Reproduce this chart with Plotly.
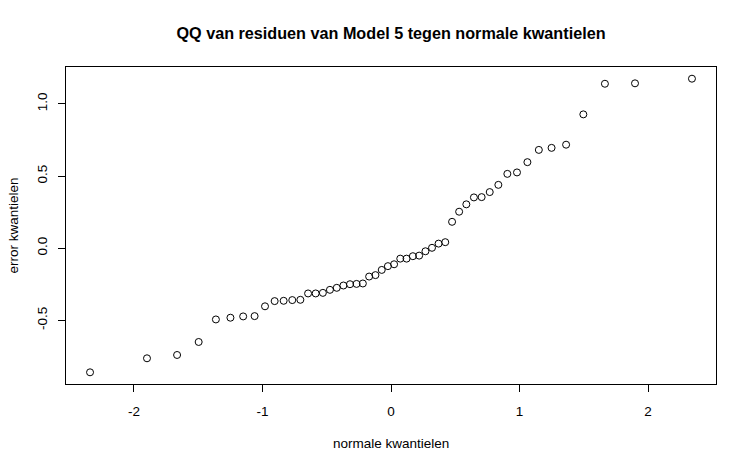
import plotly.graph_objects as go

# theoretical normal quantiles (52 residuals)
normale_kwantielen = [
    -2.341, -1.898, -1.664, -1.496, -1.362, -1.249, -1.150, -1.061, -0.980,
    -0.905, -0.835, -0.768, -0.705, -0.645, -0.586, -0.530, -0.475, -0.422,
    -0.370, -0.319, -0.268, -0.219, -0.170, -0.121, -0.072, -0.024,
    0.024, 0.072, 0.121, 0.170, 0.219, 0.268, 0.319, 0.370, 0.422, 0.475,
    0.530, 0.586, 0.645, 0.705, 0.768, 0.835, 0.905, 0.980, 1.061, 1.150,
    1.249, 1.362, 1.496, 1.664, 1.898, 2.341,
]

# sorted residuals of Model 5
error_kwantielen = [
    -0.859, -0.762, -0.739, -0.649, -0.493, -0.481, -0.472, -0.470, -0.402,
    -0.366, -0.364, -0.359, -0.357, -0.313, -0.313, -0.309, -0.288, -0.274,
    -0.258, -0.249, -0.247, -0.244, -0.196, -0.186, -0.150, -0.124,
    -0.111, -0.072, -0.072, -0.055, -0.051, -0.021, 0.003, 0.032, 0.042,
    0.183, 0.253, 0.304, 0.352, 0.354, 0.389, 0.439, 0.515, 0.525, 0.596,
    0.681, 0.695, 0.717, 0.927, 1.139, 1.142, 1.174,
]

x_ticks = [-2, -1, 0, 1, 2]
x_ticklabels = ["-2", "-1", "0", "1", "2"]
y_ticks = [-0.5, 0.0, 0.5, 1.0]
y_ticklabels = ["-0.5", "0.0", "0.5", "1.0"]

font = "Liberation Sans, Arial, Helvetica, sans-serif"

fig = go.Figure(
    data=go.Scatter(
        x=normale_kwantielen,
        y=error_kwantielen,
        mode="markers",
        marker=dict(symbol="circle-open", size=7, color="black",
                    line=dict(width=1, color="black")),
        hoverinfo="x+y",
    ),
    layout=go.Layout(
        width=750,
        height=468,
        paper_bgcolor="white",
        plot_bgcolor="white",
        showlegend=False,
        margin=dict(l=66, r=34, t=67, b=84, autoexpand=False),
        font=dict(family=font, size=13.5, color="black"),
        title=dict(
            text="<b>QQ van residuen van Model 5 tegen normale kwantielen</b>",
            x=0.5, xref="paper", xanchor="center",
            y=1 - 33.5 / 468, yref="container", yanchor="middle",
            font=dict(family=font, size=16.2, color="black"),
        ),
    ),
)

fig.update_xaxes(
    range=[-2.528, 2.528],
    tickvals=x_ticks,
    ticktext=x_ticklabels,
    ticks="outside", ticklen=7, tickcolor="black", tickwidth=1,
    showline=True, linecolor="black", linewidth=1, mirror=True,
    showgrid=False, zeroline=False,
    tickfont=dict(size=13.5),
    ticklabelstandoff=8,
)
fig.update_yaxes(
    range=[-0.940, 1.255],
    tickvals=y_ticks,
    ticktext=y_ticklabels,
    tickangle=-90,
    ticks="outside", ticklen=7, tickcolor="black", tickwidth=1,
    showline=True, linecolor="black", linewidth=1, mirror=True,
    showgrid=False, zeroline=False,
    tickfont=dict(size=13.5),
    ticklabelstandoff=6,
)

# axis titles placed like R's mtext lines
fig.add_annotation(text="normale kwantielen", x=0.5, y=-(443 - 384) / 317,
                   xref="paper", yref="paper", showarrow=False,
                   xanchor="center", yanchor="middle", font=dict(size=13.5))
fig.add_annotation(text="error kwantielen", x=(13 - 66) / 650, y=0.5,
                   xref="paper", yref="paper", showarrow=False, textangle=-90,
                   xanchor="center", yanchor="middle", font=dict(size=13.5))

# drop the default 8px body margin so the figure fills the window
fig.write_html("out.html",
               config={"displayModeBar": False},
               post_script="document.body.style.margin = '0px';")
